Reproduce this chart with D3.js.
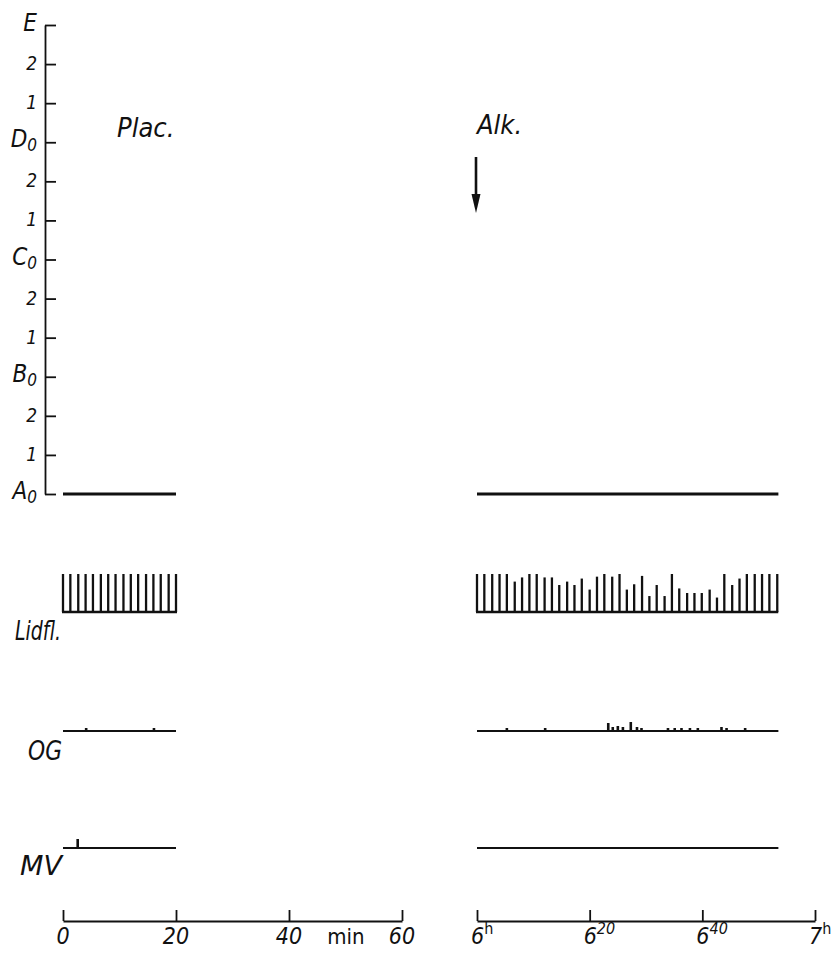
<!DOCTYPE html>
<html>
<head>
<meta charset="utf-8">
<script src="https://cdn.jsdelivr.net/npm/d3@7"></script>
<style>
    body { margin: 0; background: #fff; }
    text { font-family: 'DejaVu Sans Condensed', 'DejaVu Sans', sans-serif; font-stretch: condensed; font-style: italic; fill: #111; }
</style>
</head>
<body>
<div id="wrapper"></div>
<script>

// stage ladder, bottom (A0) to top (E)
const stageLetters = ["A", "1", "2", "B", "1", "2", "C", "1", "2", "D", "1", "2", "E"]
const stageSubs = ["0", "", "", "0", "", "", "0", "", "", "0", "", "", ""]

// sleep stage trace (minutes, stage index)
const placStageTimes = [0, 20]
const placStageValues = [0, 0]
const alkStageTimes = [0, 53.5]
const alkStageValues = [0, 0]

// lid movements (Lidfl.), relative amplitude
const placLidflTimes = [0, 1.3, 2.7, 4.0, 5.3, 6.7, 8.0, 9.3, 10.7, 12.0, 13.3, 14.7, 16.0, 17.3, 18.7, 20.0]
const placLidflAmp = [1, 1, 1, 1, 1, 1, 1, 1, 1, 1, 1, 1, 1, 1, 1, 1]
const alkLidflTimes = [0, 1.3, 2.7, 4.0, 5.3, 6.7, 8.0, 9.3, 10.6, 12.0, 13.3, 14.6, 16.0, 17.3, 18.6, 20.0,
    21.3, 22.6, 24.0, 25.3, 26.6, 27.9, 29.3, 30.6, 31.9, 33.3, 34.6, 35.9, 37.3, 38.6, 39.9, 41.3,
    42.6, 43.9, 45.3, 46.6, 47.9, 49.3, 50.6, 51.9, 53.3]
const alkLidflAmp = [1, 1, 1, 1, 1, 0.8, 0.91, 1, 1, 0.91, 0.91, 0.71, 0.8, 0.71, 0.88, 0.59,
    0.93, 1, 0.93, 1, 0.59, 0.73, 0.95, 0.42, 0.71, 0.42, 1, 0.62, 0.5, 0.5, 0.5, 0.59,
    0.38, 1, 0.71, 0.88, 1, 1, 1, 1, 1]

// eye movements (OG)
const placOGTimes = [4.1, 16.1]
const placOGAmp = [0.3, 0.3]
const alkOGTimes = [5.3, 12.1, 23.3, 24.1, 25.0, 25.9, 27.3, 28.4, 29.2, 33.9, 35.1, 36.3, 37.8, 39.2, 43.4, 44.3, 47.6]
const alkOGAmp = [0.3, 0.3, 0.8, 0.4, 0.5, 0.4, 0.9, 0.4, 0.3, 0.3, 0.3, 0.3, 0.3, 0.3, 0.4, 0.3, 0.3]

// body movements (MV)
const placMVTimes = [2.6]
const placMVAmp = [0.9]
const alkMVTimes = []
const alkMVAmp = []

// time axes
const minTicks = [0, 20, 40, 60]
const minLabels = ["0", "20", "40", "60"]
const hourBase = ["6", "6", "6", "7"]
const hourSup = ["h", "20", "40", "h"]

function drawChart() {
    const dimensions = { width: 836, height: 954 }
    const ink = "#111"

    const wrapper = d3.select("#wrapper")
        .append("svg")
            .attr("width", dimensions.width)
            .attr("height", dimensions.height)

    const bounds = wrapper.append("g")

    // scales
    const stageScale = d3.scaleLinear().domain([0, 12]).range([494, 25])
    const xPlac = d3.scaleLinear().domain([0, 60]).range([63, 402])
    const xAlk = d3.scaleLinear().domain([0, 60]).range([477, 815])
    const lidScale = d3.scaleLinear().domain([0, 1]).range([612, 574])
    const ogBase = 731
    const mvBase = 848
    const spikeScale = d3.scaleLinear().domain([0, 1]).range([0, 10])

    // stage axis
    const stageAxis = d3.axisRight(stageScale)
        .tickValues(d3.range(13))
        .tickSize(11)
        .tickSizeOuter(0)
        .tickFormat("")
    const axisG = bounds.append("g")
        .attr("transform", "translate(45,0)")
        .call(stageAxis)
    axisG.selectAll("path, line").attr("stroke", ink).attr("stroke-width", 1.8)

    const stageText = bounds.append("g").selectAll("text")
        .data(stageLetters)
        .join("text")
        .attr("x", 37)
        .attr("y", (d, i) => stageScale(i) + (stageSubs[i] ? 5 : 6))
        .attr("text-anchor", "end")
        .style("font-size", (d, i) => (stageSubs[i] || d === "E") ? "24px" : "19px")
    stageText.append("tspan").text(d => d)
    stageText.append("tspan")
        .attr("dy", 4)
        .style("font-size", "17px")
        .text((d, i) => stageSubs[i])

    // stage traces
    const stageLine = (xs, times) => d3.line()
        .x((d, i) => xs(times[i]))
        .y(d => stageScale(d))

    bounds.append("path")
        .attr("d", stageLine(xPlac, placStageTimes)(placStageValues))
        .attr("fill", "none").attr("stroke", ink).attr("stroke-width", 2.8)
    bounds.append("path")
        .attr("d", stageLine(xAlk, alkStageTimes)(alkStageValues))
        .attr("fill", "none").attr("stroke", ink).attr("stroke-width", 2.8)

    // lid bars
    function drawLid(xs, times, amps) {
        const g = bounds.append("g")
        g.append("line")
            .attr("x1", xs(times[0]) - 1).attr("x2", xs(times[times.length - 1]) + 1)
            .attr("y1", lidScale(0)).attr("y2", lidScale(0))
            .attr("stroke", ink).attr("stroke-width", 2.6)
        g.selectAll(".bar")
            .data(amps)
            .join("line")
            .attr("class", "bar")
            .attr("x1", (d, i) => xs(times[i]))
            .attr("x2", (d, i) => xs(times[i]))
            .attr("y1", lidScale(0))
            .attr("y2", d => lidScale(d))
            .attr("stroke", ink).attr("stroke-width", 2.3)
    }
    drawLid(xPlac, placLidflTimes, placLidflAmp)
    drawLid(xAlk, alkLidflTimes, alkLidflAmp)

    // OG and MV traces with small spikes
    function drawSpikes(xs, end, base, times, amps) {
        const g = bounds.append("g")
        g.append("line")
            .attr("x1", xs(0)).attr("x2", xs(end))
            .attr("y1", base).attr("y2", base)
            .attr("stroke", ink).attr("stroke-width", 1.8)
        g.selectAll(".spike")
            .data(amps)
            .join("line")
            .attr("class", "spike")
            .attr("x1", (d, i) => xs(times[i]))
            .attr("x2", (d, i) => xs(times[i]))
            .attr("y1", base)
            .attr("y2", d => base - spikeScale(d))
            .attr("stroke", ink).attr("stroke-width", 2.6)
    }
    drawSpikes(xPlac, 20, ogBase, placOGTimes, placOGAmp)
    drawSpikes(xAlk, 53.5, ogBase, alkOGTimes, alkOGAmp)
    drawSpikes(xPlac, 20, mvBase, placMVTimes, placMVAmp)
    drawSpikes(xAlk, 53.5, mvBase, alkMVTimes, alkMVAmp)

    // row labels
    bounds.append("text").attr("x", 15).attr("y", 640).style("font-size", "26px")
        .attr("textLength", 46).attr("lengthAdjust", "spacingAndGlyphs").text("Lidfl.")
    bounds.append("text").attr("x", 28).attr("y", 760).style("font-size", "26px")
        .attr("textLength", 34).attr("lengthAdjust", "spacingAndGlyphs").text("OG")
    bounds.append("text").attr("x", 20).attr("y", 875).style("font-size", "26px")
        .attr("textLength", 42).attr("lengthAdjust", "spacingAndGlyphs").text("MV")

    // condition labels
    bounds.append("text").attr("x", 117).attr("y", 137).style("font-size", "27px").text("Plac.")
    bounds.append("text").attr("x", 477).attr("y", 134).style("font-size", "27px").text("Alk.")

    // arrow for alcohol intake
    const ax = xAlk(0) - 1
    bounds.append("line")
        .attr("x1", ax).attr("x2", ax).attr("y1", 157).attr("y2", 198)
        .attr("stroke", ink).attr("stroke-width", 2.6)
    bounds.append("path")
        .attr("d", `M${ax - 4.5},194 L${ax + 4.5},194 L${ax},213 Z`)
        .attr("fill", ink)

    // time axes
    const axisY = 921
    const leftAxis = d3.axisTop(xPlac).tickValues(minTicks).tickSize(11).tickSizeOuter(0).tickFormat("")
    const rightAxis = d3.axisTop(xAlk).tickValues(minTicks).tickSize(11).tickSizeOuter(0).tickFormat("")
    const lg = bounds.append("g").attr("transform", `translate(0,${axisY})`).call(leftAxis)
    const rg = bounds.append("g").attr("transform", `translate(0,${axisY})`).call(rightAxis)
    lg.selectAll("path, line").attr("stroke", ink).attr("stroke-width", 1.8)
    rg.selectAll("path, line").attr("stroke", ink).attr("stroke-width", 1.8)

    bounds.append("g").selectAll("text")
        .data(minLabels)
        .join("text")
        .attr("x", (d, i) => xPlac(minTicks[i]))
        .attr("y", 944)
        .attr("text-anchor", "middle")
        .style("font-size", "23px")
        .text(d => d)
    bounds.append("text")
        .attr("x", 346).attr("y", 944)
        .attr("text-anchor", "middle")
        .style("font-size", "22px").style("font-style", "normal")
        .text("min")

    const hourText = bounds.append("g").selectAll("text")
        .data(hourBase)
        .join("text")
        .attr("x", (d, i) => xAlk(minTicks[i]) - 6)
        .attr("y", 944)
        .style("font-size", "23px")
    hourText.append("tspan").text(d => d)
    hourText.append("tspan")
        .attr("dy", -10)
        .style("font-size", "16px")
        .style("font-style", (d, i) => hourSup[i] === "h" ? "normal" : "italic")
        .text((d, i) => hourSup[i])
}

drawChart();
</script>
</body>
</html>
